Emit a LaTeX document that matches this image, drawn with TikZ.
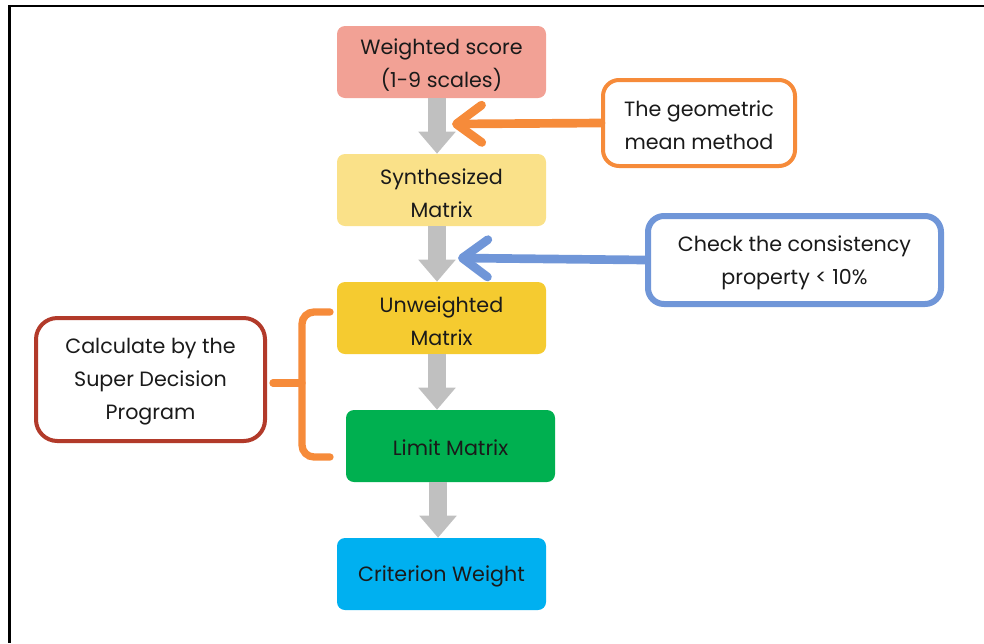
\documentclass[tikz,border=0pt]{standalone}
\usepackage{fontspec}
\setmainfont{Poppins}
\usetikzlibrary{arrows.meta,calc}

\definecolor{cSalmon}{HTML}{F2A195}
\definecolor{cPale}{HTML}{FAE189}
\definecolor{cGold}{HTML}{F5CB30}
\definecolor{cGreen}{HTML}{00B050}
\definecolor{cCyan}{HTML}{00B0F0}
\definecolor{cOrange}{HTML}{F68B3A}
\definecolor{cBlue}{HTML}{7096D8}
\definecolor{cBrick}{HTML}{B23A2A}
\definecolor{cGrey}{HTML}{C0C0C0}
\definecolor{cInk}{HTML}{1A1A1A}

\tikzset{
  txt/.style={font=\fontsize{15.5}{24.75}\selectfont, text=cInk, align=center, inner sep=0pt},
  stepbox/.style={rounded corners=6pt, minimum width=156.75pt, minimum height=54pt, inner sep=0pt},
  notebox/.style={fill=white, line width=3pt, inner sep=0pt},
  flow/.style={cGrey, line width=13.5pt, -{Triangle[length=16.5pt, width=27pt]}},
  hint/.style={line width=6.5pt, line cap=round,
    -{Straight Barb[length=19pt, width=28pt, line cap=round, line join=round]}},
}

\begin{document}
\begin{tikzpicture}[x=0.75pt, y=-0.75pt]
\useasboundingbox (0,0) rectangle (984,643);

% outer frame (top and left edges)
\draw[line width=2pt] (8,6) -- (984,6);
\draw[line width=2.25pt] (9,6) -- (9,643);

% process steps
\node[stepbox, fill=cSalmon] (b1) at (441.5,62)  {};
\node[stepbox, fill=cPale]   (b2) at (441.5,190) {};
\node[stepbox, fill=cGold]   (b3) at (441.5,318) {};
\node[stepbox, fill=cGreen]  (b4) at (450.5,446) {};
\node[stepbox, fill=cCyan]   (b5) at (441.5,574) {};
\node[txt] (b1t) at ($(b1)+(0,3)$) {Weighted score\\(1-9 scales)};
\node[txt] (b2t) at ($(b2)+(0,3)$) {Synthesized\\Matrix};
\node[txt] (b3t) at ($(b3)+(0,3)$) {Unweighted\\Matrix};
\node[txt] (b4t) at ($(b4)+(0,2)$) {Limit Matrix};
\node[txt] (b5t) at ($(b5)+(0,2)$) {Criterion Weight};

% flow arrows
\draw[flow] ($(b1.south)+(-4.5,0)$) -- ($(b2.north)+(-4.5,0)$);
\draw[flow] ($(b2.south)+(-4.5,0)$) -- ($(b3.north)+(-4.5,0)$);
\draw[flow] ($(b3.south)+(-4.5,0)$) -- ($(b4.north)+(-13.5,0)$);
\draw[flow] ($(b4.south)+(-12.5,0)$) -- ($(b5.north)+(-3.5,0)$);

% side notes
\node[notebox, draw=cOrange, rounded corners=12pt, minimum width=144pt, minimum height=64.5pt]
  (geo) at (699,123) {};
\node[notebox, draw=cBlue, line width=4.5pt, rounded corners=12pt, minimum width=219.75pt, minimum height=66pt]
  (chk) at (794.5,260) {};
\node[notebox, draw=cBrick, rounded corners=16pt, minimum width=171.75pt, minimum height=92.25pt]
  (calc) at (150.5,379.5) {};
\node[txt] (geot) at ($(geo)+(0,2)$) {The geometric\\mean method};
\node[txt] (chkt) at ($(chk)+(0,3)$) {Check the consistency\\property < 10\%};
\node[txt] (calct) at ($(calc)+(0,2)$) {Calculate by the\\Super Decision\\Program};

% note pointers
\coordinate (geoTip) at (452,124);
\coordinate (chkTip) at (458,258);
\draw[hint, cOrange] (geo.west) -- (geoTip);
\draw[hint, cBlue] (chk.west) -- (chkTip);

% brace grouping the matrix steps
\coordinate (brTop) at (330,312);
\coordinate (brBot) at (330,457);
\coordinate (brMid) at (302,383);
\coordinate (brPoint) at (273,383);
\draw[cOrange, line width=5.5pt, line cap=round, rounded corners=9pt]
  (brTop) -- (302,312) -- (302,457) -- (brBot);
\draw[cOrange, line width=5.5pt, line cap=round] (brMid) -- (brPoint);
\end{tikzpicture}
\end{document}
